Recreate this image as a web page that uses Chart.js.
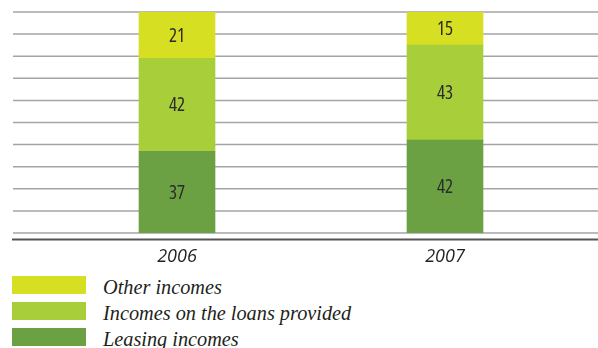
<!DOCTYPE html>
<html>
<head>
<meta charset="utf-8">
<script src="https://cdn.jsdelivr.net/npm/chart.js@4.4.1/dist/chart.umd.min.js"></script>
<style>
  html, body { margin: 0; padding: 0; background: #fff; }
  #wrap { position: relative; width: 598px; height: 348px; overflow: hidden; }
  #chart { position: absolute; left: 0; top: 0; }
  #legend { position: absolute; left: 12px; top: 276px; }
  .item { height: 26px; display: flex; align-items: flex-start; }
  .box { width: 74px; height: 18px; flex: none; }
  .txt {
    margin-left: 17px; margin-top: 0;
    font-family: 'Liberation Serif', 'Times New Roman', serif;
    font-style: italic; font-size: 20.3px; line-height: 22px; color: #231f20;
  }
</style>
</head>
<body>
<div id="wrap">
  <canvas id="chart" width="598" height="270"></canvas>
  <div id="legend"></div>
</div>
<script>
// Data
const tahun = ['2006', '2007'];
const leasing = [37, 42];
const pinjaman = [42, 43];
const lainnya = [21, 15];

const namaSeri = ['Leasing incomes', 'Incomes on the loans provided', 'Other incomes'];
const warnaSeri = ['#6ba143', '#a8ce3a', '#d7df22'];

// Garis grid melebar sampai tepi kanan + garis sumbu bawah
const gridPlugin = {
  id: 'gridPenuh',
  beforeDatasetsDraw(chart) {
    const { ctx, chartArea, scales: { y } } = chart;
    ctx.save();
    ctx.strokeStyle = '#a4a4a4';
    ctx.lineWidth = 1.5;
    for (let v = y.min; v <= y.max; v += 10) {
      const py = y.getPixelForValue(v);
      ctx.beginPath();
      ctx.moveTo(13, py);
      ctx.lineTo(chart.width, py);
      ctx.stroke();
    }
    ctx.strokeStyle = '#555';
    ctx.lineWidth = 2;
    ctx.beginPath();
    ctx.moveTo(12, chartArea.bottom + 6.5);
    ctx.lineTo(chart.width, chartArea.bottom + 6.5);
    ctx.stroke();
    ctx.restore();
  }
};

// Angka di tengah batang
const labelPlugin = {
  id: 'labelNilai',
  afterDatasetsDraw(chart) {
    const { ctx } = chart;
    ctx.save();
    ctx.font = '19px "Open Sans", sans-serif';
    ctx.fontStretch = 'condensed';
    ctx.fillStyle = '#2b2b2b';
    ctx.textAlign = 'center';
    ctx.textBaseline = 'middle';
    chart.data.datasets.forEach((ds, i) => {
      chart.getDatasetMeta(i).data.forEach((bar, j) => {
        ctx.fillText(ds.data[j], bar.x, (bar.y + bar.base) / 2 + 1);
      });
    });
    ctx.restore();
  }
};

new Chart(document.getElementById('chart'), {
  type: 'bar',
  data: {
    labels: tahun,
    datasets: [
      { label: namaSeri[0], data: leasing, backgroundColor: warnaSeri[0] },
      { label: namaSeri[1], data: pinjaman, backgroundColor: warnaSeri[1] },
      { label: namaSeri[2], data: lainnya, backgroundColor: warnaSeri[2] }
    ]
  },
  options: {
    responsive: false,
    animation: false,
    devicePixelRatio: 1,
    barThickness: 76,
    layout: { padding: { top: 12, left: 43, right: 19, bottom: 0 } },
    plugins: { legend: { display: false }, tooltip: { enabled: false } },
    scales: {
      x: {
        stacked: true,
        grid: { display: false, drawTicks: false },
        border: { display: false },
        ticks: {
          padding: 13,
          color: '#231f20',
          font: { family: '"Open Sans", sans-serif', style: 'italic', size: 18 }
        },
        afterFit: s => { s.height = 37; }
      },
      y: {
        stacked: true,
        display: false,
        min: 0,
        max: 100
      }
    }
  },
  plugins: [gridPlugin, labelPlugin]
});

// Legenda (urutan terbalik: atas = Other incomes)
const legendEl = document.getElementById('legend');
for (let i = namaSeri.length - 1; i >= 0; i--) {
  const item = document.createElement('div');
  item.className = 'item';
  item.innerHTML = `<div class="box" style="background:${warnaSeri[i]}"></div><div class="txt">${namaSeri[i]}</div>`;
  legendEl.appendChild(item);
}
</script>
</body>
</html>
